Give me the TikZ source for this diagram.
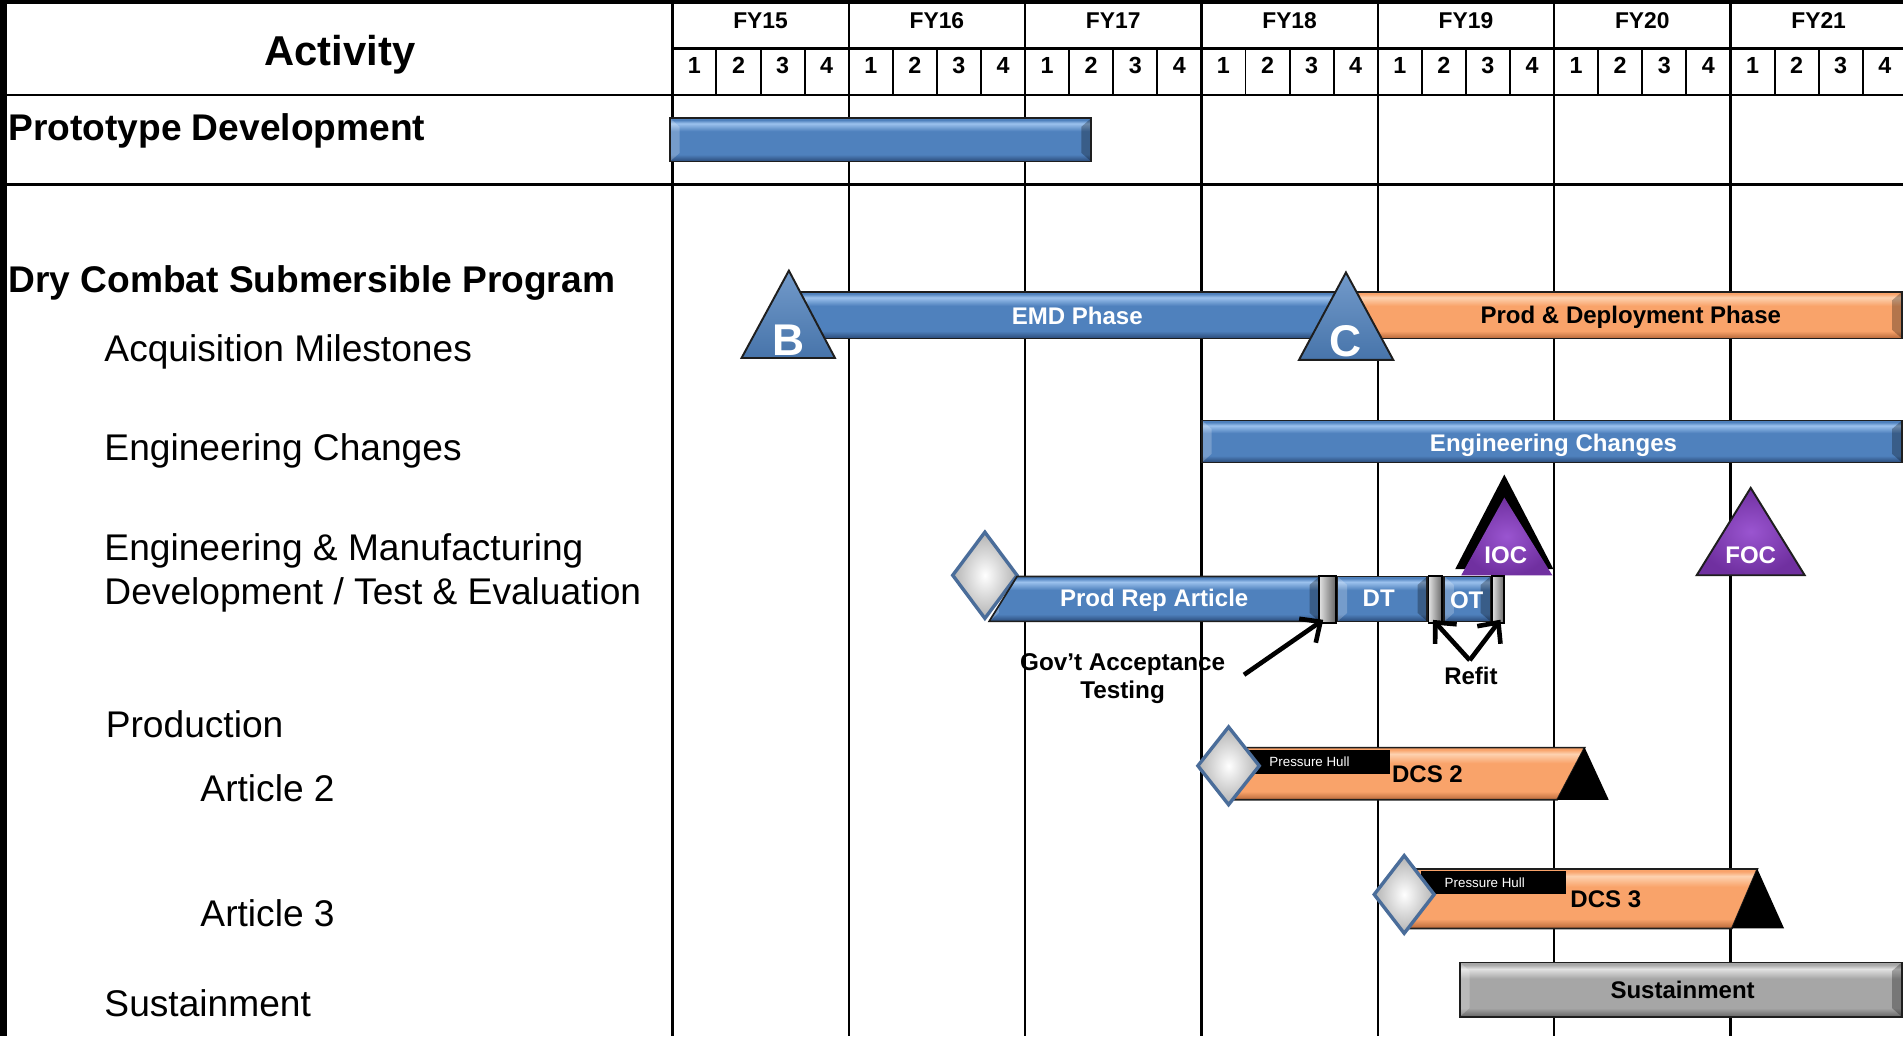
\documentclass[tikz,border=0pt]{standalone}
\usepackage{fontspec}
\setmainfont{Liberation Sans}
\usetikzlibrary{arrows.meta,fit,calc}
\definecolor{bmain}{HTML}{4F81BD}
\definecolor{blt}{HTML}{9CC2EE}
\definecolor{bdk}{HTML}{2A4A78}
\definecolor{omain}{HTML}{F9A36A}
\definecolor{olt}{HTML}{FDD2B0}
\definecolor{odk}{HTML}{B8683A}
\definecolor{gmain}{HTML}{A6A6A6}
\definecolor{glt}{HTML}{E2E2E2}
\definecolor{gdk}{HTML}{666666}
\definecolor{pmain}{HTML}{7030A0}
\definecolor{plt}{HTML}{9A55D0}
\definecolor{outl}{HTML}{1E1E1E}
\definecolor{dmdedge}{HTML}{4A6D9A}
\pgfdeclareverticalshading{blueshade}{100bp}{color(0bp)=(bdk); color(25bp)=(bdk); color(33bp)=(bmain); color(60bp)=(bmain); color(69bp)=(blt); color(73bp)=(bmain); color(75bp)=(bmain); color(100bp)=(bmain)}
\pgfdeclareverticalshading{orangeshade}{100bp}{color(0bp)=(odk); color(25bp)=(odk); color(33bp)=(omain); color(60bp)=(omain); color(69bp)=(olt); color(73bp)=(omain); color(75bp)=(omain); color(100bp)=(omain)}
\pgfdeclareverticalshading{grayshade}{100bp}{color(0bp)=(gdk); color(25bp)=(gdk); color(33bp)=(gmain); color(60bp)=(gmain); color(69bp)=(glt); color(73bp)=(gmain); color(75bp)=(gmain); color(100bp)=(gmain)}
\tikzset{
  grid/.style={line width=1pt, black},
  qline/.style={line width=0.8pt, black},
  bevel/.style={path picture={
    \fill[black, opacity=0.28] (path picture bounding box.north east) -- ++(-4pt,-3.5pt)
      -- ($(path picture bounding box.south east)+(-4pt,3.5pt)$) -- (path picture bounding box.south east) -- cycle;
    \fill[white, opacity=0.22] (path picture bounding box.north west) -- ++(4pt,-3.5pt)
      -- ($(path picture bounding box.south west)+(4pt,3.5pt)$) -- (path picture bounding box.south west) -- cycle;}},
  bar/.style={draw=outl, line width=0.7pt, inner sep=0pt, outer sep=0pt},
  bluebar/.style={bar, shading=blueshade, bevel},
  orangebar/.style={bar, shading=orangeshade, bevel},
  graybar/.style={bar, shading=grayshade, bevel},
  sepbox/.style={draw=black, line width=0.8pt, inner sep=0pt, outer sep=0pt, left color=glt, right color=gdk},
  lbl/.style={anchor=base west, inner sep=0pt, font=\fontsize{15.3}{18}\selectfont},
  lblb/.style={lbl, font=\bfseries\fontsize{15.3}{18}\selectfont},
  yr/.style={inner sep=0pt, text height=6.7pt, text depth=0pt, font=\bfseries\fontsize{9.4}{11}\selectfont},
  qt/.style={inner sep=0pt, text height=6.9pt, text depth=0pt, font=\bfseries\fontsize{9.6}{11}\selectfont},
  wtxt/.style={inner sep=0pt, text=white, text height=7.1pt, text depth=0pt, font=\bfseries\fontsize{9.9}{12}\selectfont},
  ktxt/.style={wtxt, text=black},
  bigl/.style={inner sep=0pt, text=white, text height=13.1pt, text depth=0pt, font=\bfseries\fontsize{18.3}{20}\selectfont},
  tri/.style={draw=outl, line width=0.8pt, top color=bmain!80!white, bottom color=bmain!90!black},
  purp/.style={inner color=plt, outer color=pmain},
  dmd/.style={draw=dmdedge, line width=1.4pt, inner color=white, outer color=gray!60},
  arr/.style={line width=1.9pt, -{Straight Barb[length=6.5pt,width=12pt]}},
}
\begin{document}
\begin{tikzpicture}[x=0.5pt,y=-0.5pt]
\useasboundingbox (0,0) rectangle (1568,854);
\fill[white] (0,0) rectangle (1568,854);
% frame
\fill[black] (0,0) rectangle (6,854);
\fill[black] (0,0) rectangle (1568,3.3);
% grid
\draw[grid] (6,78.5) -- (1568,78.5);
\draw[grid] (6,152) -- (1568,152);
\draw[grid] (554,40) -- (1568,40);
\foreach \i in {0,...,6} \draw[grid] ({554+145.3*\i},3) -- ({554+145.3*\i},854);
\foreach \i in {0,...,6} \foreach \q in {1,2,3}
  \draw[qline] ({554+145.3*\i+36.325*\q},40) -- ({554+145.3*\i+36.325*\q},78.5);
\foreach \y [count=\i from 0] in {15,...,21}
  \node[yr] (fy\y) at ({554+145.3*\i+72.65},17) {FY\y};
\foreach \i in {0,...,6} \foreach \q in {1,...,4}
  \node[qt] (q\i\q) at ({554+145.3*\i+36.325*(\q-0.5)},54) {\q};
% left column
\node[anchor=base, inner sep=0pt, font=\bfseries\fontsize{17.2}{20}\selectfont] (activity) at (280,53.6) {Activity};
\node[lblb] (lproto) at (6.5,115.4) {Prototype Development};
\node[lblb] (ldcs) at (6.5,241) {Dry Combat Submersible Program};
\node[lbl] (lacq) at (85.7,298) {Acquisition Milestones};
\node[lbl] (leng) at (85.7,379.5) {Engineering Changes};
\node[lbl] (lemd1) at (85.7,462) {Engineering \& Manufacturing};
\node[lbl] (lemd2) at (85.7,498.5) {Development / Test \& Evaluation};
\node[lbl] (lprod) at (86.8,607.5) {Production};
\node[lbl] (lart2) at (164.8,660.5) {Article 2};
\node[lbl] (lart3) at (164.8,763) {Article 3};
\node[lbl] (lsus) at (85.7,837.7) {Sustainment};
% prototype bar
\node[bluebar, fit={(552,97.5) (899,133)}] (proto) {};
% phases
\node[bluebar, fit={(657,240.5) (1105,278.8)}] (emd) {};
\node[orangebar, fit={(1115,240.5) (1567,278.8)}] (pdp) {};
\node[wtxt] (emdlbl) at (887.6,260.4) {EMD Phase};
\node[ktxt] (pdplbl) at (1343.7,259.5) {Prod \& Deployment Phase};
\path[tri] (650,223) -- (688,295) -- (611,295) -- cycle;
\node[bigl] (msb) at (650,279.5) {B};
\path[tri] (1109,224.5) -- (1148,296.6) -- (1070.3,296.6) -- cycle;
\node[bigl] (msc) at (1109,281) {C};
% engineering changes
\node[bluebar, fit={(990.3,346.5) (1567,381)}] (ecbar) {};
\node[wtxt] (eclbl) at (1280,364.7) {Engineering Changes};
% IOC / FOC
\fill[black] (1239.5,391) -- (1280,469) -- (1199,469) -- cycle;
\path[purp] (1239.5,410) -- (1279,474) -- (1204,474) -- cycle;
\node[wtxt] (ioc) at (1240.7,457) {IOC};
\path[purp, draw=outl, line width=0.8pt] (1442.5,402) -- (1487,474) -- (1398,474) -- cycle;
\node[wtxt] (foc) at (1442.5,457) {FOC};
% EMD / T&E row
\path[dmd] (811.5,438.5) -- (838,474) -- (811.5,509.5) -- (785,474) -- cycle;
\path[bar, shading=blueshade, bevel] (838,475) -- (1087,475) -- (1087,512) -- (815,512) -- cycle;
\node[wtxt] (prodrep) at (951,493) {Prod Rep Article};
\node[sepbox, fit={(1087,474.6) (1100.5,513)}] (sep1) {};
\node[bluebar, fit={(1102,475) (1176,512)}] (dt) {};
\node[wtxt] (dtlbl) at (1136,493) {DT};
\node[sepbox, fit={(1177,474.6) (1188.5,513)}] (sep2) {};
\node[bluebar, fit={(1190,475) (1228,512)}] (ot) {};
\node[wtxt] (otlbl) at (1208.5,494) {OT};
\node[sepbox, fit={(1229.5,474.6) (1239.5,513)}] (sep3) {};
\node[inner sep=0pt, align=center, font=\bfseries\fontsize{10}{11.5}\selectfont] (gat) at (925,559) {Gov't Acceptance\\Testing};
\node[ktxt] (refit) at (1212,557) {Refit};
\coordinate (gatstart) at (1025,556);
\coordinate (refitv) at (1211,544);
\draw[arr, shorten >=-2pt] (gatstart) -- (sep1.south west);
\draw[arr, shorten >=-1.5pt] (refitv) -- (sep2.south);
\draw[arr, shorten >=-1.5pt] (refitv) -- (sep3.south);
% DCS 2
\path[bar, shading=orangeshade] (1011,616) -- (1305.7,616) -- (1283,659) -- (1011,659) -- cycle;
\fill[black] (1305.7,616) -- (1325.5,659) -- (1283,659) -- cycle;
\node[fill=black, inner sep=0pt, fit={(1026.6,618) (1145.3,638)}] (ph2) {};
\node[inner sep=0pt, text=white, font=\fontsize{5.5}{6}\selectfont] (ph2lbl) at (1079,628) {Pressure Hull};
\node[ktxt, anchor=west] (dcs2) at (1146.6,637.7) {DCS 2};
\path[dmd] (1012.3,599) -- (1037.6,631) -- (1012.3,663) -- (987,631) -- cycle;
% DCS 3
\path[bar, shading=orangeshade] (1157,716) -- (1448,716) -- (1427,765) -- (1157,765) -- cycle;
\fill[black] (1448,716) -- (1470,765) -- (1427,765) -- cycle;
\node[fill=black, inner sep=0pt, fit={(1171,717.6) (1290,736.6)}] (ph3) {};
\node[inner sep=0pt, text=white, font=\fontsize{5.5}{6}\selectfont] (ph3lbl) at (1223.4,727.6) {Pressure Hull};
\node[ktxt, anchor=west] (dcs3) at (1293.6,740.7) {DCS 3};
\path[dmd] (1157,705) -- (1181.7,737) -- (1157,769) -- (1132.3,737) -- cycle;
% sustainment
\node[graybar, fit={(1202.8,793) (1567,837.7)}] (sus) {};
\node[ktxt] (suslbl) at (1386.4,816) {Sustainment};
\end{tikzpicture}
\end{document}
